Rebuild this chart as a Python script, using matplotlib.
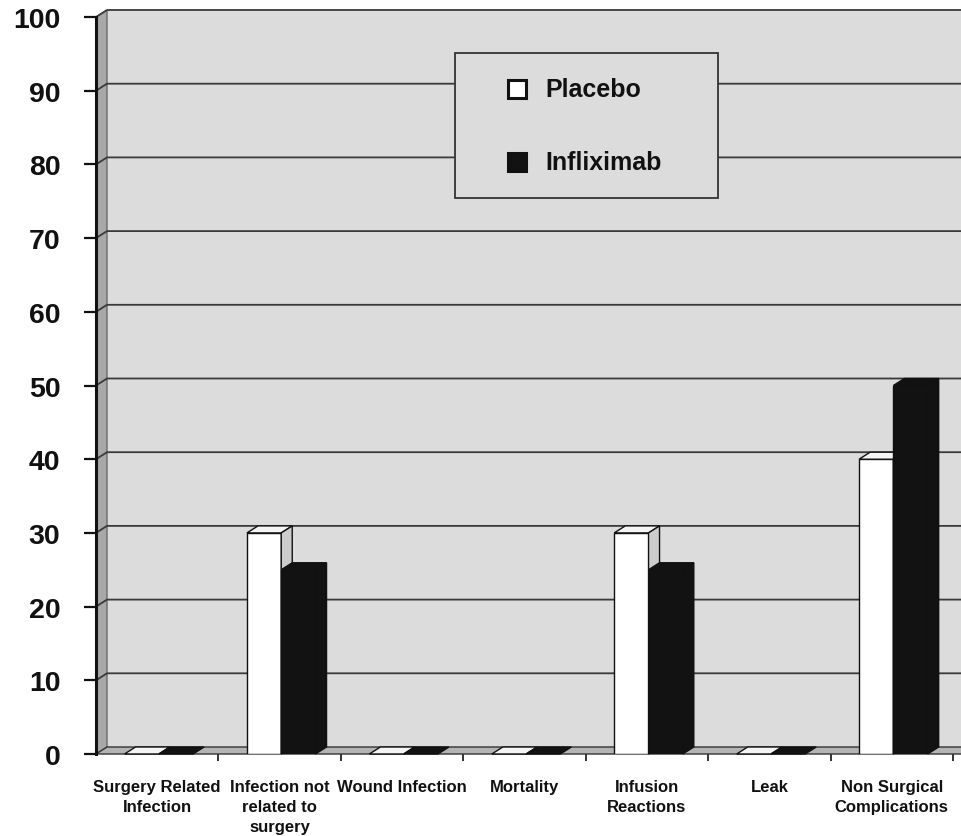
import matplotlib.pyplot as plt
from matplotlib.patches import Polygon, Rectangle
from matplotlib.lines import Line2D

plt.rcParams.update({'font.family': ['Liberation Sans', 'DejaVu Sans'], 'font.weight': 'bold'})

# data
categories = ['Surgery Related\nInfection', 'Infection not\nrelated to\nsurgery', 'Wound Infection',
              'Mortality', 'Infusion\nReactions', 'Leak', 'Non Surgical\nComplications']
placebo = [0, 30, 0, 0, 30, 0, 40]
infliximab = [0, 25, 0, 0, 25, 0, 50]
series_names = ['Placebo', 'Infliximab']

# 3d look
DX, DY = 0.09, 0.95          # depth offset (category units, value units)
BAR_W, BAR_START = 0.28, 0.233
WALL = '#dcdcdc'
SIDE = '#a8a8a8'
FLOOR = '#b4b4b4'
GRID = '#3a3a3a'
TXT = '#111111'

fig = plt.figure(figsize=(9.61, 8.37), dpi=100)
ax = fig.add_axes([96/961, 1-755/837, 857/961, 737/837])
ax.set_xlim(0, 7)
ax.set_ylim(0, 100)
ax.patch.set_visible(False)
for s in ['top', 'right', 'bottom']:
    ax.spines[s].set_visible(False)
ax.spines['left'].set_linewidth(2.2)
ax.spines['left'].set_color('#111111')
ax.spines['left'].set_zorder(50)

n = len(categories)
xr = n + 0.3

# walls and floor
ax.add_patch(Rectangle((DX, DY), xr, 100, facecolor=WALL, edgecolor='none', zorder=0, clip_on=False))
ax.add_patch(Polygon([(0, 0), (DX, DY), (DX, 100 + DY), (0, 100)], closed=True,
                     facecolor=SIDE, edgecolor='#555555', lw=0.8, zorder=1, clip_on=False))
for v in range(10, 101, 10):
    ax.plot([0, DX, xr], [v, v + DY, v + DY], color=GRID, lw=1.3, zorder=2, clip_on=False)
ax.add_patch(Polygon([(0, 0), (xr, 0), (xr + DX, DY), (DX, DY)], closed=True,
                     facecolor=FLOOR, edgecolor='#333333', lw=1.0, zorder=3, clip_on=False))


def bar3d(x0, h, front, top, side, z):
    ax.bar(x0, h, BAR_W, align='edge', color=front, edgecolor='#111111', lw=1.0, zorder=z)
    ax.add_patch(Polygon([(x0, h), (x0 + BAR_W, h), (x0 + BAR_W + DX, h + DY), (x0 + DX, h + DY)],
                         closed=True, facecolor=top, edgecolor='#111111', lw=1.0, zorder=z, clip_on=False))
    if h > 0:
        ax.add_patch(Polygon([(x0 + BAR_W, 0), (x0 + BAR_W + DX, DY), (x0 + BAR_W + DX, h + DY),
                              (x0 + BAR_W, h)], closed=True, facecolor=side, edgecolor='#111111',
                             lw=1.0, zorder=z, clip_on=False))


for i in range(n):
    x0 = i + BAR_START
    bar3d(x0, placebo[i], 'white', '#f4f4f4', '#cccccc', 10 + 2 * i)
    bar3d(x0 + BAR_W, infliximab[i], '#121212', '#121212', '#121212', 11 + 2 * i)

# axes ticks
ax.set_yticks(range(0, 101, 10))
ax.tick_params(axis='y', length=8.6, width=1.6, pad=17, labelsize=20.5, colors='#111111')
ax.set_xticks([i + 0.5 for i in range(n)])
ax.set_xticklabels(categories, fontsize=12, linespacing=1.4, color=TXT)
ax.set_xticks(range(1, n + 1), minor=True)
ax.tick_params(axis='x', which='major', length=0, pad=18)
ax.tick_params(axis='x', which='minor', length=5, width=1.2, color='#111111')
for lab in ax.get_yticklabels():
    lab.set_fontweight('bold')

# legend box
ax.add_patch(Rectangle((0.419, 0.754), 0.307, 0.197, transform=ax.transAxes, facecolor=WALL,
                       edgecolor='#333333', lw=1.3, zorder=60, clip_on=False))
leg_y = [0.902, 0.803]
leg_c = ['white', '#121212']
for name, yy, c in zip(series_names, leg_y, leg_c):
    ax.add_line(Line2D([0.491], [yy], transform=ax.transAxes, marker='s', ms=13.5, mfc=c, mec='#111111',
                       mew=2.2, ls='none', zorder=61, clip_on=False))
    ax.text(0.524, yy, name, transform=ax.transAxes, fontsize=18, fontweight='bold', color=TXT,
            va='center', ha='left', zorder=61)

fig.savefig('out.png', dpi=100, facecolor='white')
